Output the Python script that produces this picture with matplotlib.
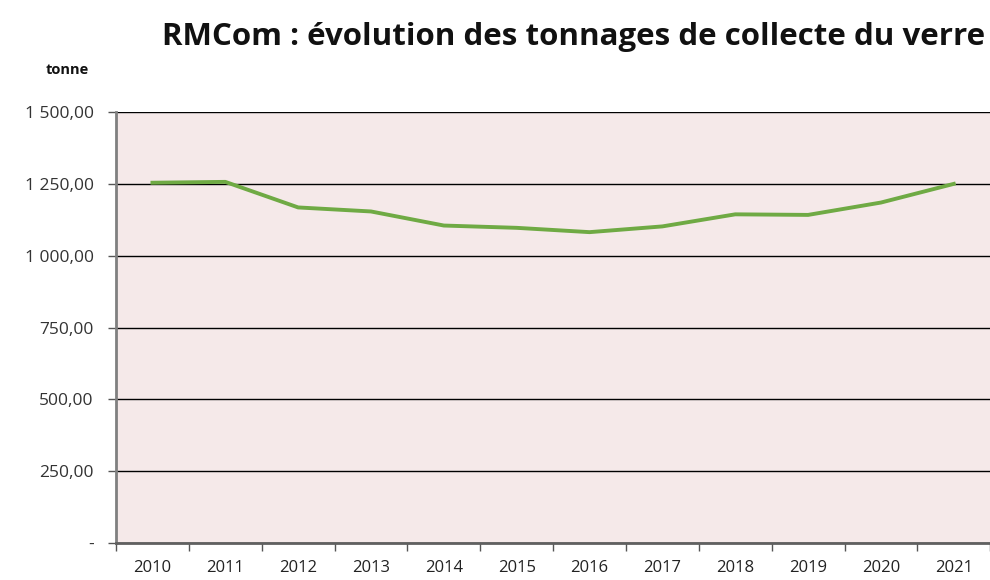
import matplotlib.pyplot as plt
from matplotlib.ticker import FixedLocator, FuncFormatter

years = ["2010", "2011", "2012", "2013", "2014", "2015",
         "2016", "2017", "2018", "2019", "2020", "2021"]
tonnages = [1254, 1257, 1168, 1154, 1105, 1097, 1082, 1102, 1144, 1142, 1185, 1250]
y_ticks = [0, 250, 500, 750, 1000, 1250, 1500]

plt.rcParams["font.family"] = ["Open Sans", "DejaVu Sans"]

fig = plt.figure(figsize=(9.9, 5.8), dpi=100)
ax = fig.add_axes([0.1172, 0.0638, 0.883, 0.743])
ax.set_facecolor("#f5e9e9")

x = list(range(len(years)))
ax.plot(x, tonnages, color="#6faa44", linewidth=2.8, zorder=3)

ax.set_xlim(-0.5, len(years) - 0.5)
ax.set_ylim(0, 1500)


def fr_fmt(v, pos):
    if v == 0:
        return "-"
    s = f"{v:,.2f}"
    return s.replace(",", " ").replace(".", ",")


ax.set_yticks(y_ticks)
ax.yaxis.set_major_formatter(FuncFormatter(fr_fmt))
ax.yaxis.grid(True, color="black", linewidth=1.0)
ax.set_axisbelow(True)
ax.tick_params(axis="y", length=6, width=1, color="#555555",
               labelsize=12.5, labelcolor="#333333", pad=10)

# Excel-style category axis: labels centred, ticks between categories
ax.set_xticks(x)
ax.set_xticklabels(years)
ax.xaxis.set_minor_locator(FixedLocator([i - 0.5 for i in range(len(years) + 1)]))
ax.tick_params(axis="x", which="major", length=0, labelsize=12,
               labelcolor="#222222", pad=12)
ax.tick_params(axis="x", which="minor", length=6, width=1, color="#555555")

for side in ["top", "right"]:
    ax.spines[side].set_visible(False)
ax.spines["left"].set_color("#808080")
ax.spines["left"].set_linewidth(2)
ax.spines["bottom"].set_color("#606060")
ax.spines["bottom"].set_linewidth(2)

fig.text(0.995, 0.937, "RMCom : évolution des tonnages de collecte du verre",
         ha="right", va="center", fontsize=22.5, fontweight="bold", color="#111111")
fig.text(0.068, 0.88, "tonne", ha="center", va="center",
         fontsize=10.5, fontweight="bold", color="#111111")

fig.savefig("out.png", dpi=100)
